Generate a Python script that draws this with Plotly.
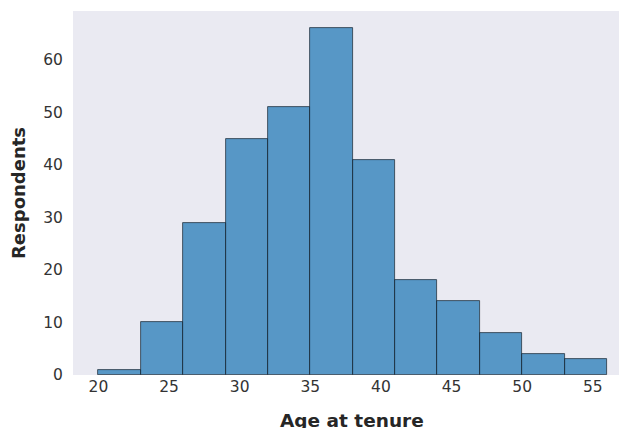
import plotly.graph_objects as go

bin_edges = [20, 23, 26, 29, 32, 35, 38, 41, 44, 47, 50, 53, 56]
counts = [1, 10, 29, 45, 51, 66, 41, 18, 14, 8, 4, 3]
x_ticks = [20, 25, 30, 35, 40, 45, 50, 55]
y_ticks = [0, 10, 20, 30, 40, 50, 60]

centers = [(a + b) / 2 for a, b in zip(bin_edges[:-1], bin_edges[1:])]
widths = [b - a for a, b in zip(bin_edges[:-1], bin_edges[1:])]

fig = go.Figure(go.Bar(
    x=centers, y=counts, width=widths,
    marker=dict(color="rgba(31,119,180,0.72)",
                line=dict(color="rgba(20,30,40,0.85)", width=0.8)),
))

font_family = "DejaVu Sans"
fig.update_layout(
    width=619, height=428,
    margin=dict(l=73, r=0, t=11, b=53),
    paper_bgcolor="white", plot_bgcolor="#EAEAF2",
    showlegend=False, bargap=0,
    font=dict(family=font_family, color="#262626"),
)
fig.update_xaxes(
    range=[18.2, 56.85], tickvals=x_ticks, showgrid=False, zeroline=False,
    ticks="", 
    tickfont=dict(size=15.5, color="#333333"),
    automargin=False,
)
fig.update_yaxes(
    range=[0, 69.3], tickvals=y_ticks, showgrid=False, zeroline=False,
    ticks="outside", ticklen=6, tickcolor="rgba(0,0,0,0)",
    tickfont=dict(size=15.5, color="#333333"),
    title=dict(text="<b>Respondents</b>", font=dict(size=18, color="#262626"), standoff=12),
    automargin=False,
)
fig.add_annotation(
    text="<b>Age at tenure</b>", xref="paper", yref="paper",
    x=0.511, y=0, xanchor="center", yanchor="top", yshift=-33,
    showarrow=False, font=dict(size=18.5, color="#262626"),
)
fig.write_html("out.html", config={"displayModeBar": False},
               post_script="document.body.style.margin='0';document.body.style.overflow='hidden';")
